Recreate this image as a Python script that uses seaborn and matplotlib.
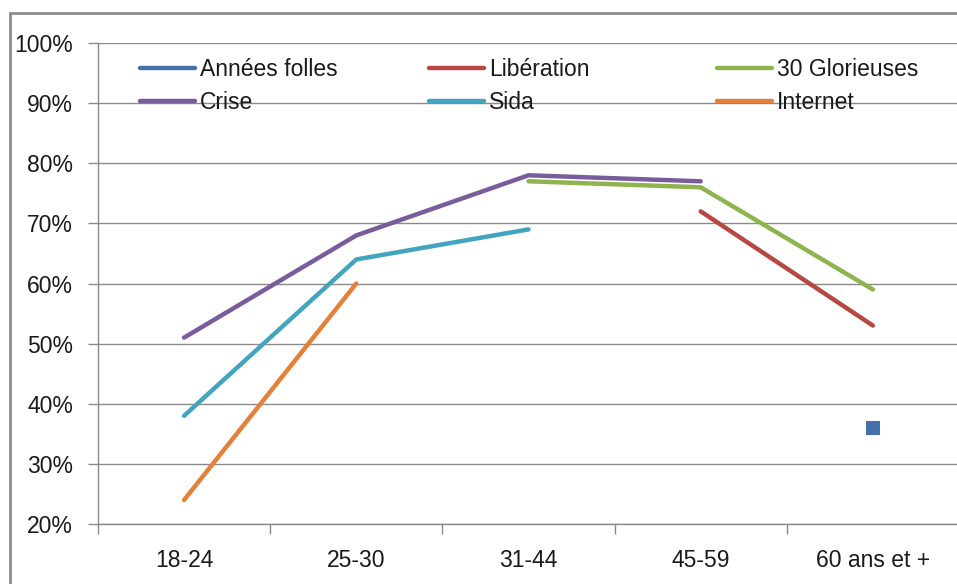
import numpy as np
import pandas as pd
import matplotlib.pyplot as plt
import seaborn as sns
from matplotlib.lines import Line2D
from matplotlib.patches import Rectangle
from matplotlib.ticker import PercentFormatter

nan = np.nan
age_groups = ['18-24', '25-30', '31-44', '45-59', '60 ans et +']
annees_folles = [nan, nan, nan, nan, 0.36]
liberation = [nan, nan, nan, 0.72, 0.53]
glorieuses = [nan, nan, 0.77, 0.76, 0.59]
crise = [0.51, 0.68, 0.78, 0.77, nan]
sida = [0.38, 0.64, 0.69, nan, nan]
internet = [0.24, 0.60, nan, nan, nan]

names = ['Années folles', 'Libération', '30 Glorieuses', 'Crise', 'Sida', 'Internet']
values = [annees_folles, liberation, glorieuses, crise, sida, internet]
colors = {'Années folles': '#4571ab', 'Libération': '#b84744', '30 Glorieuses': '#8fb34e',
          'Crise': '#785c9b', 'Sida': '#42a5bf', 'Internet': '#e4803a'}

rows = []
for name, vals in zip(names, values):
    for i, v in enumerate(vals):
        if not np.isnan(v):
            rows.append({'series': name, 'pos': i, 'value': v})
df = pd.DataFrame(rows)

sns.set_style('white')
plt.rcParams['font.family'] = ['Liberation Sans', 'DejaVu Sans']

fig = plt.figure(figsize=(9.57, 5.84), dpi=100)
ax = fig.add_axes([98 / 957, 1 - 524 / 584, 861 / 957, 481 / 584])

lw = 3.2
line_df = df[df['series'] != 'Années folles']
sns.lineplot(data=line_df, x='pos', y='value', hue='series', palette=colors,
             linewidth=lw, legend=False, sort=True, ax=ax, solid_capstyle='round')
pts = df[df['series'] == 'Années folles']
sns.scatterplot(data=pts, x='pos', y='value', marker='s', s=115, color=colors['Années folles'],
                edgecolor=colors['Années folles'], linewidth=0, ax=ax, zorder=5)

grid_c = '#8a8a8a'
ax.set_xlim(-0.5, 4.5)
ax.set_ylim(0.2, 1.0)
ax.set_yticks(np.arange(0.2, 1.001, 0.1))
ax.yaxis.set_major_formatter(PercentFormatter(1.0, decimals=0))
ax.set_xticks(range(len(age_groups)))
ax.set_xticklabels(age_groups)
ax.set_xticks(np.arange(-0.5, 4.6, 1.0), minor=True)
ax.set_xlabel('')
ax.set_ylabel('')
ax.yaxis.grid(True, color=grid_c, linewidth=1.0)
ax.xaxis.grid(False)
ax.set_axisbelow(True)
for s in ['top', 'right']:
    ax.spines[s].set_visible(False)
for s in ['left', 'bottom']:
    ax.spines[s].set_color(grid_c)
    ax.spines[s].set_linewidth(1.0)
ax.tick_params(axis='y', which='major', left=True, length=7, width=1, color=grid_c,
               pad=11, labelsize=16.5, labelcolor='#1a1a1a')
ax.tick_params(axis='x', which='major', bottom=False, length=0, pad=18,
               labelsize=16.5, labelcolor='#1a1a1a')
ax.tick_params(axis='x', which='minor', bottom=True, length=7, width=1, color=grid_c)

# legend: three columns, each placed where the reference has it
col_groups = [['Années folles', 'Crise'], ['Libération', 'Sida'], ['30 Glorieuses', 'Internet']]
col_x = [140, 429, 717]
for grp, x0 in zip(col_groups, col_x):
    handles = [Line2D([], [], color=colors[n], linewidth=lw, solid_capstyle='round') for n in grp]
    leg = fig.legend(handles, grp, loc='center left', bbox_to_anchor=(x0 / 957, 1 - 86 / 584),
                     frameon=False, fontsize=16.5, handlelength=2.4, handletextpad=0.22,
                     borderpad=0, borderaxespad=0, labelspacing=0.45)
    for t in leg.get_texts():
        t.set_color('#1a1a1a')

# outer chart frame
fig.patches.append(Rectangle((10 / 957, -0.2), 1.2, 1.2 - 13 / 584, transform=fig.transFigure,
                             fill=False, edgecolor='#8c8c8c', linewidth=2))

fig.savefig('out.png', dpi=100)
